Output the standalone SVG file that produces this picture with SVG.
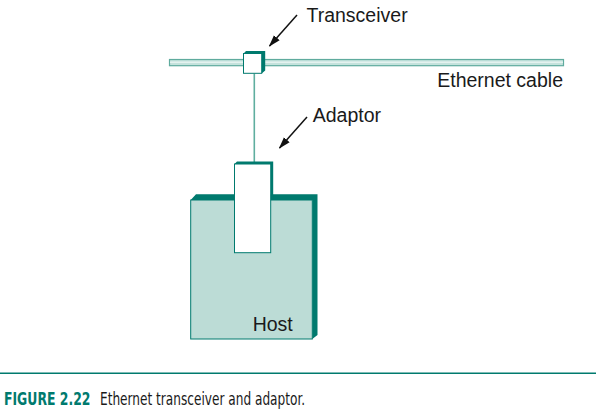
<svg xmlns="http://www.w3.org/2000/svg" width="596" height="412" viewBox="0 0 596 412">
  <defs>
    <marker id="ah" viewBox="0 0 12 10" refX="11" refY="5" markerWidth="12" markerHeight="10" markerUnits="userSpaceOnUse" orient="auto">
      <path d="M0,1.2 L12,5 L0,8.8 Z" fill="#111"/>
    </marker>
    <style>
      .lbl { font-family: "Liberation Sans", Arial, sans-serif; font-size: 19.5px; fill: #1a1a1a; }
      .ext { fill: #007a6e; }
      .front { stroke: #007a6e; stroke-width: 1; }
      .arrow { stroke: #111; stroke-width: 1.5; fill: none; marker-end: url(#ah); }
      .cap { font-family: "DejaVu Sans Condensed", "Liberation Sans Narrow", "Liberation Sans", sans-serif; font-size: 17px; }
    </style>
  </defs>
  <rect width="596" height="412" fill="#fff"/>

  <g id="cable">
    <rect x="169.5" y="59.5" width="394" height="6.2" fill="#c4e2dc" stroke="#5fab9e" stroke-width="1.2"/>
    <line x1="170" y1="62.3" x2="563" y2="62.3" stroke="#e4f2ef" stroke-width="1.4"/>
    <text class="lbl" x="563" y="86.5" text-anchor="end">Ethernet cable</text>
  </g>

  <g id="connectors">
    <line x1="254.3" y1="73.5" x2="254.3" y2="162" stroke="#5fae9f" stroke-width="1.6"/>
    <line class="arrow" x1="297" y1="15" x2="269.5" y2="46"/>
    <line class="arrow" x1="307" y1="117" x2="279.5" y2="148"/>
  </g>

  <g id="host">
    <polygon class="ext" points="190.7,200 196,194.3 317.5,194.3 317.5,335 312.3,339 312.3,200"/>
    <rect class="front" x="190.7" y="200" width="121.6" height="139" fill="#bcdcd6"/>
    <text class="lbl" x="252.7" y="331">Host</text>
  </g>

  <g id="adaptor">
    <polygon class="ext" points="234.5,164 237,161.5 273.2,161.5 273.2,200 270.7,200 270.7,164"/>
    <rect class="front" x="234.5" y="164" width="36.2" height="88.7" fill="#fff"/>
    <text class="lbl" x="312.7" y="122">Adaptor</text>
  </g>

  <g id="transceiver">
    <polygon class="ext" points="243.5,53.5 246,51 265.2,51 265.2,70.5 261.7,73.5 261.7,53.5"/>
    <rect class="front" x="243.5" y="53.5" width="18.2" height="19.8" fill="#fff"/>
    <text class="lbl" x="306.5" y="22">Transceiver</text>
  </g>

  <g id="caption">
    <line x1="0" y1="373.3" x2="596" y2="373.3" stroke="#007a6e" stroke-width="1.4"/>
    <text class="cap" x="4" y="405" font-weight="bold" fill="#007a6e" textLength="86.5" lengthAdjust="spacingAndGlyphs">FIGURE 2.22</text>
    <text class="cap" x="100" y="405" fill="#1a1a1a" textLength="205" lengthAdjust="spacingAndGlyphs">Ethernet transceiver and adaptor.</text>
  </g>
</svg>
